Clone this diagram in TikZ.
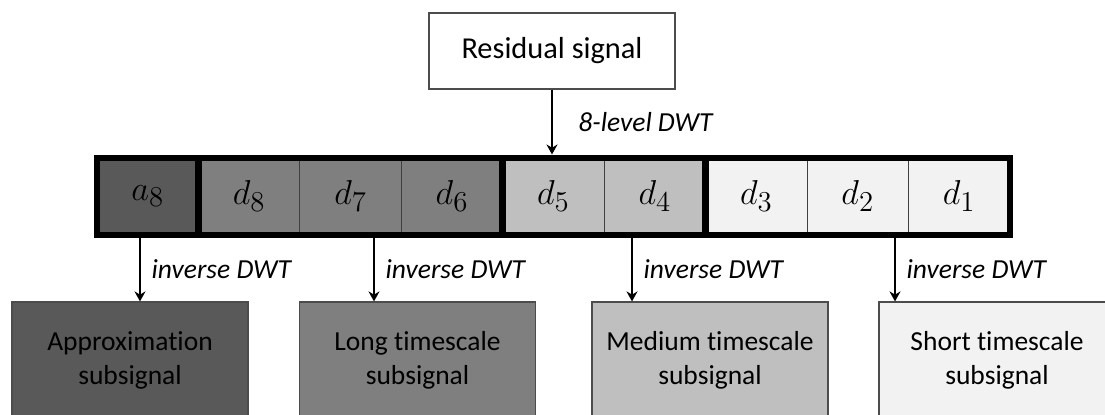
\documentclass[tikz,border=0pt]{standalone}
\usepackage{fontspec}
\setmainfont[Ligatures=NoCommon]{Carlito}
\usetikzlibrary{arrows.meta, positioning, fit}

\definecolor{shadeA}{HTML}{595959}
\definecolor{shadeB}{HTML}{7F7F7F}
\definecolor{shadeC}{HTML}{BFBFBF}
\definecolor{shadeD}{HTML}{F2F2F2}

\begin{document}
\begin{tikzpicture}[
    x=0.5pt, y=-0.5pt,
    box/.style={rectangle, draw=black!70, line width=0.6pt, minimum width=118pt, minimum height=58pt, align=center, font=\fontsize{13.75}{17}\selectfont},
    cell/.style={rectangle, draw=black!75, line width=0.5pt, minimum width=50.72pt, minimum height=38pt, inner sep=0pt, font=\fontsize{19}{22}\selectfont},
    group/.style={rectangle, draw, line width=3pt, inner sep=0pt},
    arrow/.style={-{Stealth[length=5pt, width=5.5pt]}, line width=1pt},
    note/.style={right, font=\fontsize{13.75}{17}\selectfont\itshape}
]
\useasboundingbox (0,0) rectangle (1105,414);
\clip (0,0) rectangle (1105,414);

% Input signal
\node[box, minimum width=123pt, minimum height=38pt, font=\fontsize{15.2}{18}\selectfont] (residual) at (552,51) {Residual signal};

% Wavelet coefficients
\foreach \name/\txt/\col [count=\i] in {a8/a_8/shadeA, d8/d_8/shadeB, d7/d_7/shadeB, d6/d_6/shadeB, d5/d_5/shadeC, d4/d_4/shadeC, d3/d_3/shadeD, d2/d_2/shadeD, d1/d_1/shadeD}
    \node[cell, fill=\col] (\name) at ({97+(\i-0.5)*101.44},196) {$\txt$};

% Coefficient groups
\node[group, fit=(a8)] (g1) {};
\node[group, fit=(d8)(d6)] (g2) {};
\node[group, fit=(d5)(d4)] (g3) {};
\node[group, fit=(d3)(d1)] (g4) {};

% Subsignals
\node[box, fill=shadeA] (approx) at (130,360) {Approximation\\subsignal};
\node[box, fill=shadeB] (long) at (417.5,360) {Long timescale\\subsignal};
\node[box, fill=shadeC] (medium) at (710,360) {Medium timescale\\subsignal};
\node[box, fill=shadeD] (short) at (997,360) {Short timescale\\subsignal};

% Arrows
\draw[arrow] (residual.south) -- (residual.south |- g3.north) node[note, midway, xshift=9.4pt] {8-level DWT};

\coordinate (t1) at (140,237);
\coordinate (t2) at (374,237);
\coordinate (t3) at (632,237);
\coordinate (t4) at (895,237);
\draw[arrow] (t1) -- (t1 |- approx.north) node[note, midway, xshift=2pt] {inverse DWT};
\draw[arrow] (t2) -- (t2 |- long.north) node[note, midway, xshift=2pt] {inverse DWT};
\draw[arrow] (t3) -- (t3 |- medium.north) node[note, midway, xshift=2pt] {inverse DWT};
\draw[arrow] (t4) -- (t4 |- short.north) node[note, midway, xshift=2pt] {inverse DWT};
\end{tikzpicture}
\end{document}
